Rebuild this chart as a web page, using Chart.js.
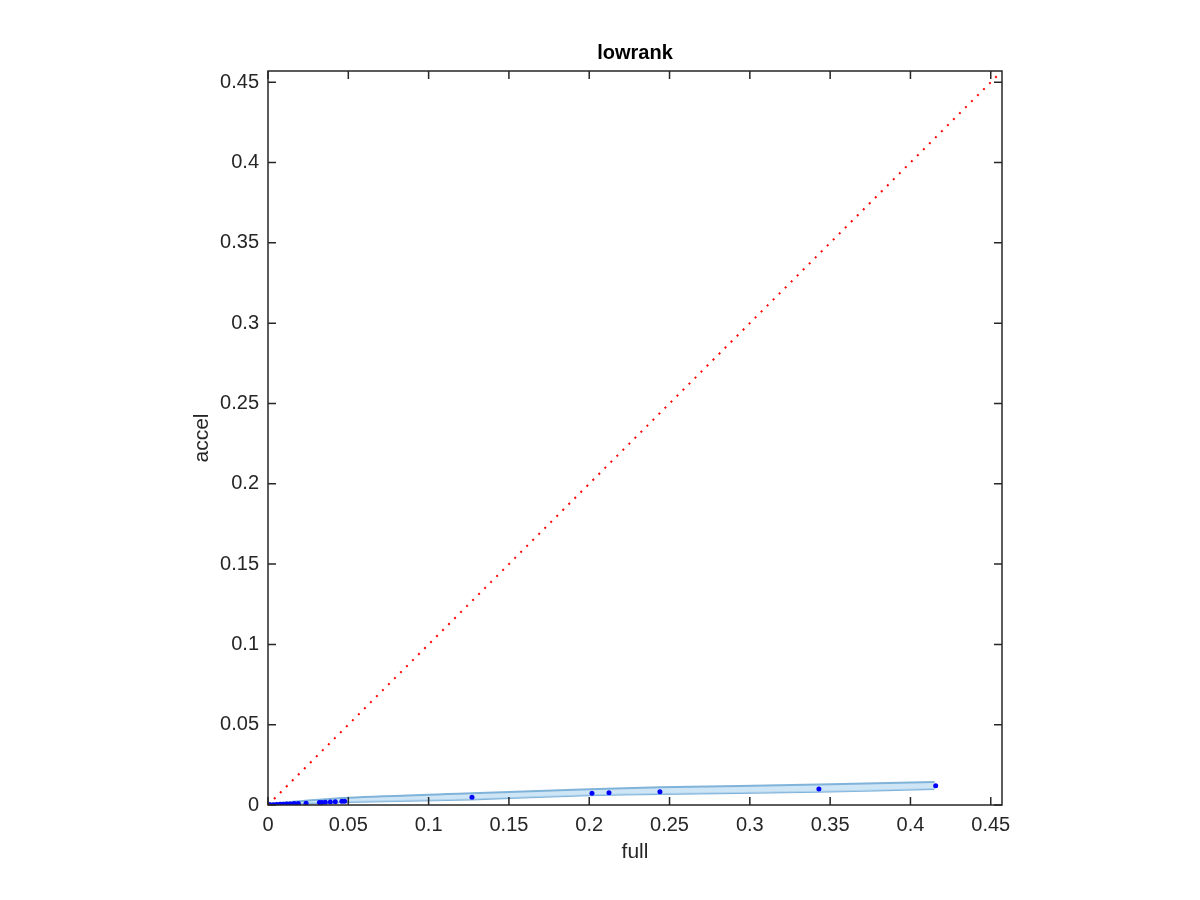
<!DOCTYPE html>
<html lang="en">
<head>
    <meta charset="UTF-8">
    <script src="https://cdn.jsdelivr.net/npm/chart.js"></script>
    <title>lowrank</title>
    <style>
        body {
            margin: 0;
            background: #fff;
        }
    </style>
</head>
<body>
    <canvas id="lowrankChart" width="1200" height="900"></canvas>
<script>
    // measured points (full vs accel)
    const fullVals = [0.0005, 0.0012, 0.0033, 0.0054, 0.0075, 0.0095, 0.0116, 0.0137, 0.0158, 0.0168,
                      0.0189, 0.0237, 0.032, 0.0336, 0.0357, 0.0388, 0.0419, 0.046, 0.0477, 0.127,
                      0.2017, 0.2123, 0.244, 0.343, 0.4157];
    const accelVals = [0.0001, 0.0001, 0.0002, 0.0003, 0.0004, 0.0005, 0.0006, 0.0007, 0.0008, 0.0008,
                       0.0009, 0.0011, 0.0015, 0.0016, 0.0017, 0.0019, 0.0021, 0.0023, 0.0024, 0.0048,
                       0.0073, 0.0077, 0.0083, 0.0100, 0.0120];

    // shaded band around the points
    const bandX = [0, 0.05, 0.127, 0.2, 0.244, 0.343, 0.415];
    const bandUpper = [0.0008, 0.0045, 0.0073, 0.0098, 0.011, 0.0127, 0.0143];
    const bandLower = [0, 0.0018, 0.0035, 0.006, 0.0068, 0.0082, 0.010];

    // axis limits and ticks
    const axisMax = 0.457;
    const tickVals = [0, 0.05, 0.1, 0.15, 0.2, 0.25, 0.3, 0.35, 0.4, 0.45];

    const textColor = '#262626';
    const fontFamily = '"Liberation Sans", Arial, Helvetica, sans-serif';

    const toPts = (xs, ys) => xs.map((x, i) => ({x: x, y: ys[i]}));

    // box around the plot plus inward ticks on all sides (matlab style)
    const boxPlugin = {
        id: 'boxTicks',
        afterDatasetsDraw(chart) {
            const {ctx, chartArea: a, scales: {x, y}} = chart;
            const len = 8;
            ctx.save();
            ctx.strokeStyle = textColor;
            ctx.lineWidth = 1.5;
            ctx.strokeRect(a.left, a.top, a.right - a.left, a.bottom - a.top);
            ctx.beginPath();
            tickVals.forEach(v => {
                const px = x.getPixelForValue(v);
                ctx.moveTo(px, a.bottom); ctx.lineTo(px, a.bottom - len);
                ctx.moveTo(px, a.top); ctx.lineTo(px, a.top + len);
                const py = y.getPixelForValue(v);
                ctx.moveTo(a.left, py); ctx.lineTo(a.left + len, py);
                ctx.moveTo(a.right, py); ctx.lineTo(a.right - len, py);
            });
            ctx.stroke();
            ctx.restore();
        }
    };

    const setTicks = scale => { scale.ticks = tickVals.map(v => ({value: v})); };
    const fmt = v => String(+Number(v).toFixed(2));

    new Chart(document.getElementById('lowrankChart'), {
        type: 'scatter',
        data: {
            datasets: [
                {
                    label: 'upper',
                    data: toPts(bandX, bandUpper),
                    showLine: true,
                    borderColor: '#80b3da',
                    borderWidth: 2,
                    backgroundColor: 'rgba(190, 220, 242, 0.75)',
                    fill: '+1',
                    pointRadius: 0,
                    tension: 0.3,
                    order: 3
                },
                {
                    label: 'lower',
                    data: toPts(bandX, bandLower),
                    showLine: true,
                    borderColor: '#80b3da',
                    borderWidth: 2,
                    pointRadius: 0,
                    tension: 0.3,
                    fill: false,
                    order: 3
                },
                {
                    label: 'points',
                    data: toPts(fullVals, accelVals),
                    backgroundColor: '#0000ff',
                    borderWidth: 0,
                    pointRadius: 2.5,
                    order: 1
                },
                {
                    label: 'diag',
                    data: [{x: 0, y: 0}, {x: axisMax, y: axisMax}],
                    showLine: true,
                    borderColor: '#ff0000',
                    borderWidth: 2,
                    borderDash: [2, 6.5],
                    pointRadius: 0,
                    order: 0
                }
            ]
        },
        options: {
            responsive: false,
            animation: false,
            layout: {padding: {left: 0, right: 198, top: 0, bottom: 0}},
            plugins: {
                legend: {display: false},
                tooltip: {enabled: false},
                title: {display: false}
            },
            scales: {
                x: {
                    type: 'linear',
                    min: 0,
                    max: axisMax,
                    afterBuildTicks: setTicks,
                    afterFit: s => { s.height = 95; },
                    grid: {display: false},
                    border: {display: false},
                    ticks: {
                        color: textColor,
                        font: {family: fontFamily, size: 20},
                        padding: 0,
                        maxRotation: 0,
                        autoSkip: false,
                        callback: fmt
                    },
                    title: {
                        display: true,
                        text: 'full',
                        color: textColor,
                        font: {family: fontFamily, size: 21},
                        padding: {top: 0, bottom: 35}
                    }
                },
                // top axis only carries the plot title, centred over the plot box
                xTop: {
                    type: 'linear',
                    position: 'top',
                    min: 0,
                    max: axisMax,
                    afterFit: s => { s.height = 71; },
                    grid: {display: false},
                    border: {display: false},
                    ticks: {display: false},
                    title: {
                        display: true,
                        text: 'lowrank',
                        color: '#000',
                        font: {family: fontFamily, size: 20, weight: 'bold'},
                        padding: {top: 41, bottom: 0}
                    }
                },
                y: {
                    type: 'linear',
                    min: 0,
                    max: axisMax,
                    afterBuildTicks: setTicks,
                    afterFit: s => { s.width = 268; },
                    grid: {display: false},
                    border: {display: false},
                    ticks: {
                        color: textColor,
                        font: {family: fontFamily, size: 20},
                        padding: 1,
                        autoSkip: false,
                        callback: fmt
                    },
                    title: {
                        display: true,
                        text: 'accel',
                        color: textColor,
                        font: {family: fontFamily, size: 21},
                        padding: {top: 190, bottom: 0}
                    }
                }
            }
        },
        plugins: [boxPlugin]
    });
</script>
</body>
</html>
